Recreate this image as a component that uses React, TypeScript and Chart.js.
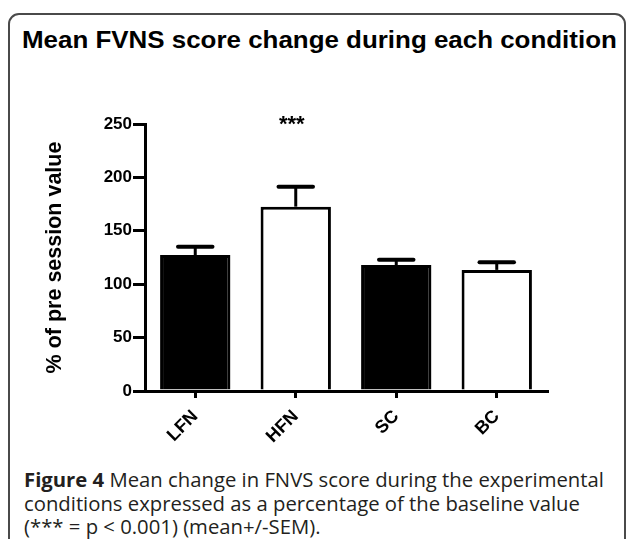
import React, { useEffect, useRef } from "react";
import { Chart, registerables } from "chart.js";

Chart.register(...registerables);

const categories = ["LFN", "HFN", "SC", "BC"];
const meanValues = [127.3, 172.6, 118.0, 113.4];
const semValues = [7.8, 18.7, 4.8, 7.2];
const barFills = ["#000000", "#ffffff", "#000000", "#ffffff"];
const significance = ["", "***", "", ""];
const yTicks = [0, 50, 100, 150, 200, 250];

const FONT = "'Liberation Sans', Arial, Helvetica, sans-serif";
const CAPTION_FONT = "'Open Sans', 'Noto Sans', sans-serif";

const CANVAS_W = 627;
const CANVAS_H = 460;

const errorBarPlugin = {
  id: "errorBars",
  afterDatasetsDraw(chart: any) {
    const { ctx } = chart;
    const y = chart.scales.y;
    const meta = chart.getDatasetMeta(0);
    ctx.save();
    ctx.strokeStyle = "#000";
    ctx.fillStyle = "#000";
    meta.data.forEach((bar: any, i: number) => {
      const cx = bar.x;
      const base = y.getPixelForValue(meanValues[i]);
      const top = y.getPixelForValue(meanValues[i] + semValues[i]);
      ctx.lineWidth = 3;
      ctx.lineCap = "butt";
      ctx.beginPath();
      ctx.moveTo(cx, base);
      ctx.lineTo(cx, top);
      ctx.stroke();
      ctx.lineWidth = 4;
      ctx.lineCap = "round";
      const half = bar.width * 0.245;
      ctx.beginPath();
      ctx.moveTo(cx - half, top);
      ctx.lineTo(cx + half, top);
      ctx.stroke();
    });
    ctx.font = `bold 22px ${FONT}`;
    ctx.textAlign = "center";
    ctx.textBaseline = "alphabetic";
    significance.forEach((s, i) => {
      if (!s) return;
      const bar: any = meta.data[i];
      ctx.fillText(s, bar.x - 4, y.top + 7);
    });
    ctx.restore();
  },
};

export default function App() {
  const canvasRef = useRef<HTMLCanvasElement | null>(null);

  useEffect(() => {
    const canvas = canvasRef.current;
    if (!canvas) return;
    const chart = new Chart(canvas, {
      type: "bar",
      data: {
        labels: categories,
        datasets: [
          {
            data: meanValues,
            backgroundColor: barFills,
            borderColor: "#000",
            borderWidth: 3,
            borderSkipped: "start",
            barPercentage: 0.7,
            categoryPercentage: 1,
          },
        ],
      },
      options: {
        animation: false,
        responsive: false,
        devicePixelRatio: 1,
        layout: { padding: { top: 124, right: 80, left: 0, bottom: 0 } },
        plugins: {
          legend: { display: false },
          tooltip: { enabled: false },
          title: { display: false },
        },
        scales: {
          x: {
            z: 1,
            offset: true,
            grid: {
              display: true,
              offset: false,
              drawOnChartArea: false,
              drawTicks: true,
              tickLength: 7,
              color: "#000",
              lineWidth: 3,
            },
            border: { display: true, color: "#000", width: 3 },
            ticks: {
              color: "#000",
              font: { family: FONT, weight: "bold", size: 18 },
              maxRotation: 45,
              minRotation: 45,
              padding: 8,
            },
            afterFit: (s: any) => {
              s.height = CANVAS_H - 391;
            },
          },
          y: {
            z: 1,
            min: 0,
            max: 250,
            afterBuildTicks: (s: any) => {
              s.ticks = yTicks.map((v) => ({ value: v }));
            },
            grid: {
              display: true,
              drawOnChartArea: false,
              drawTicks: true,
              tickLength: 12,
              color: "#000",
              lineWidth: 3,
            },
            border: { display: true, color: "#000", width: 3 },
            ticks: {
              color: "#000",
              font: { family: FONT, weight: "bold", size: 17 },
              padding: 1,
            },
            title: {
              display: true,
              text: "% of pre session value",
              color: "#000",
              font: { family: FONT, weight: "bold", size: 21.5 },
              padding: { top: 42, bottom: 0 },
            },
            afterFit: (s: any) => {
              s.width = 145;
            },
          },
        },
      } as any,
      plugins: [errorBarPlugin],
    });
    return () => chart.destroy();
  }, []);

  return (
    <div
      style={{
        position: "absolute",
        left: 0,
        top: 0,
        width: 627,
        height: 539,
        overflow: "hidden",
        background: "#fff",
      }}
    >
      <div
        style={{
          position: "absolute",
          left: 8,
          top: 13,
          width: 618,
          height: 600,
          boxSizing: "border-box",
          border: "2px solid #4a4a4a",
          borderRadius: "11px 11px 0 0",
        }}
      />
      <div
        style={{
          position: "absolute",
          left: 22,
          top: 26,
          fontFamily: FONT,
          fontWeight: "bold",
          fontSize: 24,
          lineHeight: "28px",
          whiteSpace: "nowrap",
          color: "#000",
          transform: "scaleX(1.08)",
          transformOrigin: "0 0",
        }}
      >
        Mean FVNS score change during each condition
      </div>
      <canvas
        ref={canvasRef}
        width={CANVAS_W}
        height={CANVAS_H}
        style={{ position: "absolute", left: 0, top: 0, width: CANVAS_W, height: CANVAS_H }}
      />
      <div
        style={{
          position: "absolute",
          left: 24,
          top: 468,
          fontFamily: CAPTION_FONT,
          fontSize: 20.3,
          lineHeight: "23.5px",
          whiteSpace: "nowrap",
          color: "#231f20",
        }}
      >
        <b>Figure 4</b> Mean change in FNVS score during the experimental
        <br />
        conditions expressed as a percentage of the baseline value
        <br />
        (*** = p &lt; 0.001) (mean+/-SEM).
      </div>
    </div>
  );
}
